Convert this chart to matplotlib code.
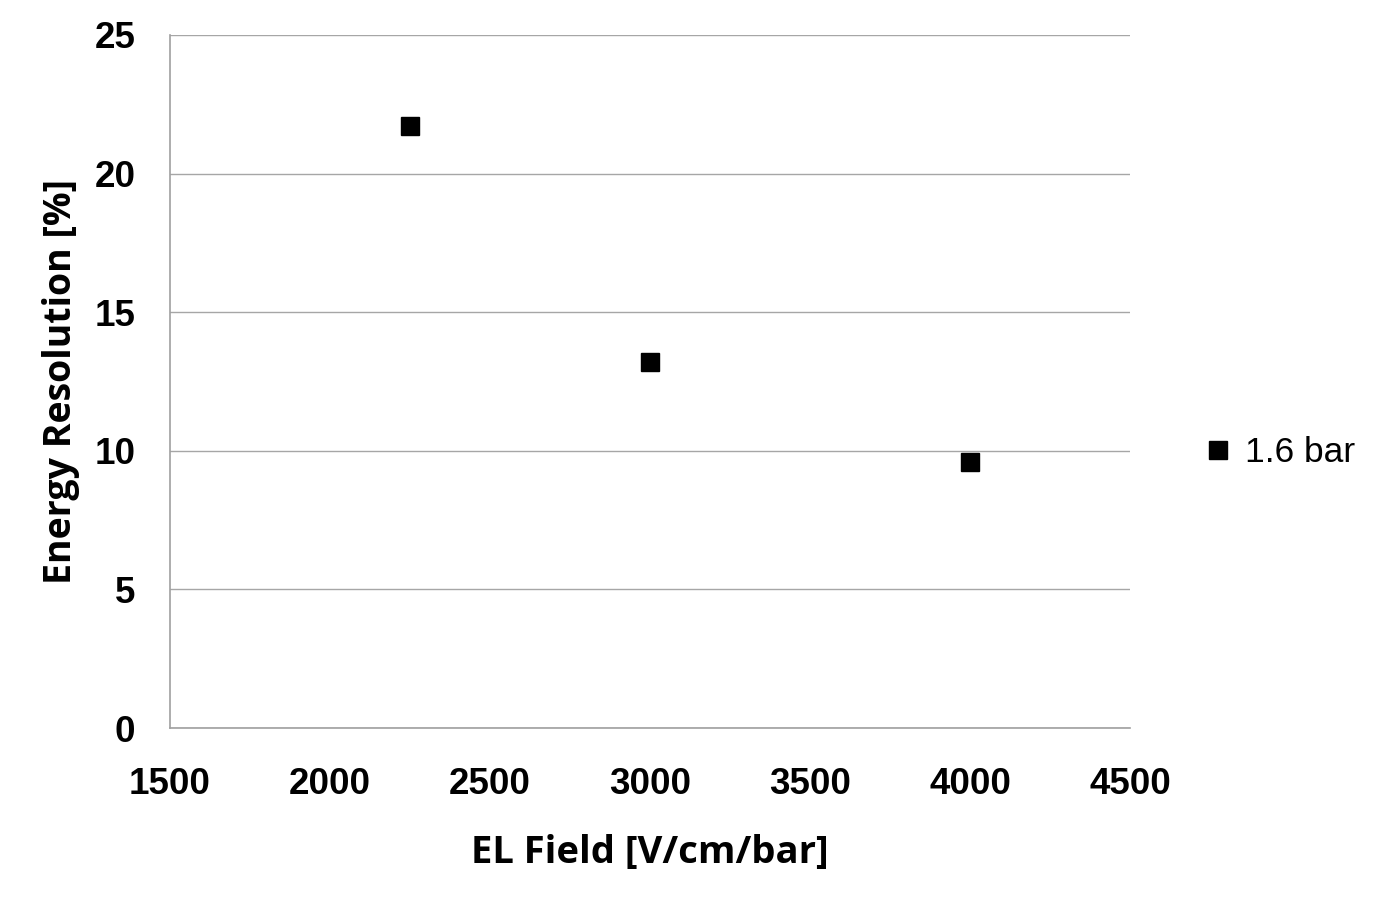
import matplotlib
matplotlib.use("Agg")
import matplotlib.pyplot as plt

# data
el_field = [2250, 3000, 4000]
resolution = [21.7, 13.2, 9.6]
series_name = "1.6 bar"

x_ticks = [1500, 2000, 2500, 3000, 3500, 4000, 4500]
y_ticks = [0, 5, 10, 15, 20, 25]

fig = plt.figure(figsize=(13.77, 9), dpi=100)
ax = fig.add_axes([170 / 1377, 1 - 728 / 900, 960 / 1377, 693 / 900])

ax.plot(el_field, resolution, linestyle="none", marker="s", markersize=13,
        color="black", label=series_name)

ax.set_xlim(1500, 4500)
ax.set_ylim(0, 25)
ax.set_xticks(x_ticks)
ax.set_yticks(y_ticks)
ax.grid(True, axis="y", color="#a6a6a6", linewidth=1)
ax.set_axisbelow(True)

for side in ["top", "right"]:
    ax.spines[side].set_visible(False)
for side in ["left", "bottom"]:
    ax.spines[side].set_color("#a0a0a0")
    ax.spines[side].set_linewidth(1.2)

ax.tick_params(length=0, labelsize=26.5)
ax.tick_params(axis="x", pad=28)
ax.tick_params(axis="y", pad=25)
for lab in ax.get_xticklabels() + ax.get_yticklabels():
    lab.set_fontfamily("Liberation Sans")
    lab.set_fontweight("bold")

ax.set_xlabel("EL Field [V/cm/bar]", fontfamily="Open Sans", fontweight="bold",
              fontsize=27.5, labelpad=23)
ax.set_ylabel("Energy Resolution [%]", fontfamily="Open Sans", fontweight="bold",
              fontsize=27, labelpad=10)

leg = ax.legend(loc="center left", bbox_to_anchor=(1183 / 1377, 1 - 453 / 900),
                bbox_transform=fig.transFigure, frameon=False, borderpad=0,
                handletextpad=0.25, handlelength=1.0, markerscale=0.95,
                prop={"family": "Liberation Sans", "size": 25.5})

fig.savefig("out.png", dpi=100)
